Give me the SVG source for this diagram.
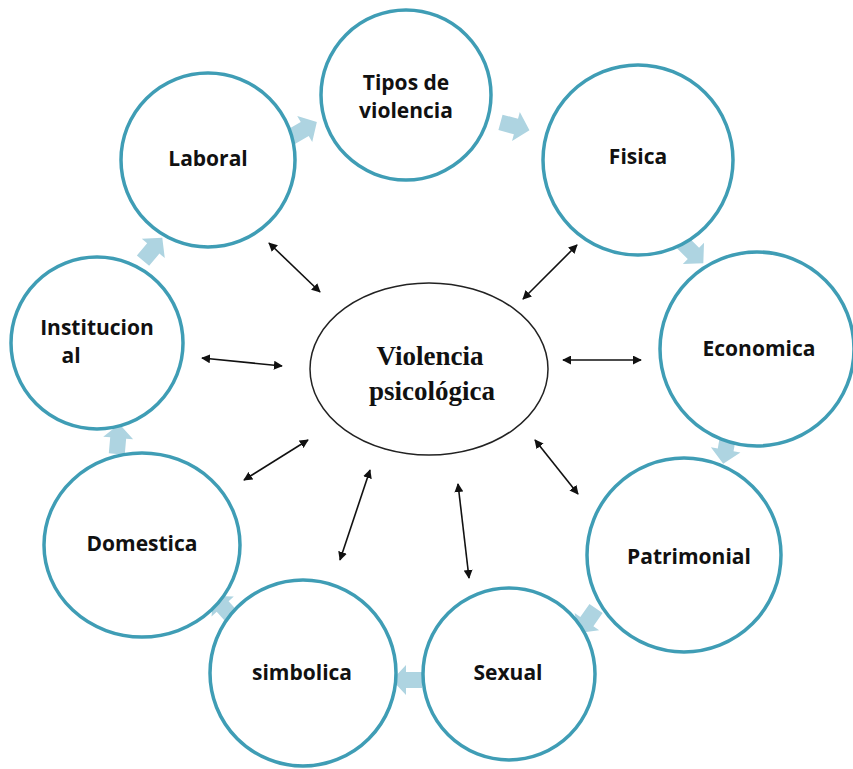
<svg xmlns="http://www.w3.org/2000/svg" width="853" height="769" viewBox="0 0 853 769">
<defs>
<style>
.node{fill:#ffffff;stroke:#3f9db5;stroke-width:3.5}
.lbl{font-family:"Open Sans","Liberation Sans",sans-serif;font-weight:bold;font-size:21px;fill:#111;text-anchor:middle}
.ctr{font-family:"Liberation Serif",serif;font-weight:bold;font-size:27px;fill:#111;text-anchor:middle}
.blk{fill:#aed4e1}
.conn{stroke:#111;stroke-width:1.6;fill:none;marker-start:url(#ah);marker-end:url(#ah)}
</style>
<marker id="ah" viewBox="0 0 10 10" refX="9" refY="5" markerWidth="9" markerHeight="9" markerUnits="userSpaceOnUse" orient="auto-start-reverse">
<path d="M0,0 L10,5 L0,10 z" fill="#111"/>
</marker>
<polygon id="ba" points="-14,-8 2,-8 2,-15 16,0 2,15 2,8 -14,8"/>
</defs>
<rect width="853" height="769" fill="#ffffff"/>
<g id="cycle-arrows" class="blk">
<use href="#ba" transform="translate(303,130) rotate(-30)"/>
<use href="#ba" transform="translate(514,126) rotate(15)"/>
<use href="#ba" transform="translate(692,252) rotate(45)"/>
<use href="#ba" transform="translate(726,448) rotate(100)"/>
<use href="#ba" transform="translate(588,620) rotate(125)"/>
<use href="#ba" transform="translate(408,680) rotate(180)"/>
<use href="#ba" transform="translate(224,608) rotate(228)"/>
<use href="#ba" transform="translate(118,440) rotate(-85)"/>
<use href="#ba" transform="translate(152,250) rotate(-50)"/>
</g>
<g id="n-tipos"><circle class="node" cx="406" cy="95" r="85"/><text class="lbl" x="406" y="90">Tipos de</text><text class="lbl" x="406" y="118">violencia</text></g>
<g id="n-laboral"><circle class="node" cx="208" cy="160" r="87"/><text class="lbl" x="208" y="166">Laboral</text></g>
<g id="n-fisica"><circle class="node" cx="638" cy="160" r="95"/><text class="lbl" x="638" y="164">Fisica</text></g>
<g id="n-economica"><circle class="node" cx="757" cy="349" r="97"/><text class="lbl" x="759" y="356">Economica</text></g>
<g id="n-patrimonial"><circle class="node" cx="684" cy="555" r="97"/><text class="lbl" x="689" y="564">Patrimonial</text></g>
<g id="n-sexual"><circle class="node" cx="509" cy="674" r="86"/><text class="lbl" x="508" y="680">Sexual</text></g>
<g id="n-simbolica"><circle class="node" cx="303" cy="673" r="93"/><text class="lbl" x="302" y="680">simbolica</text></g>
<g id="n-domestica"><ellipse class="node" cx="142" cy="545" rx="98" ry="92"/><text class="lbl" x="142" y="551">Domestica</text></g>
<g id="n-institucional"><circle class="node" cx="97" cy="343" r="86"/><text class="lbl" x="97" y="335">Institucion</text><text class="lbl" x="71" y="363">al</text></g>
<g id="n-center"><ellipse cx="429" cy="369" rx="119" ry="86" fill="#ffffff" stroke="#222" stroke-width="1.5"/><text class="ctr" x="430" y="365">Violencia</text><text class="ctr" x="432" y="400">psicológica</text></g>
<g id="connectors">
<line class="conn" x1="269" y1="243" x2="320" y2="292"/>
<line class="conn" x1="577" y1="245" x2="523" y2="299"/>
<line class="conn" x1="202" y1="358" x2="282" y2="366"/>
<line class="conn" x1="563" y1="360" x2="641" y2="360"/>
<line class="conn" x1="244" y1="480" x2="308" y2="440"/>
<line class="conn" x1="340" y1="560" x2="370" y2="470"/>
<line class="conn" x1="458" y1="484" x2="469" y2="578"/>
<line class="conn" x1="535" y1="440" x2="578" y2="494"/>
</g>
</svg>
